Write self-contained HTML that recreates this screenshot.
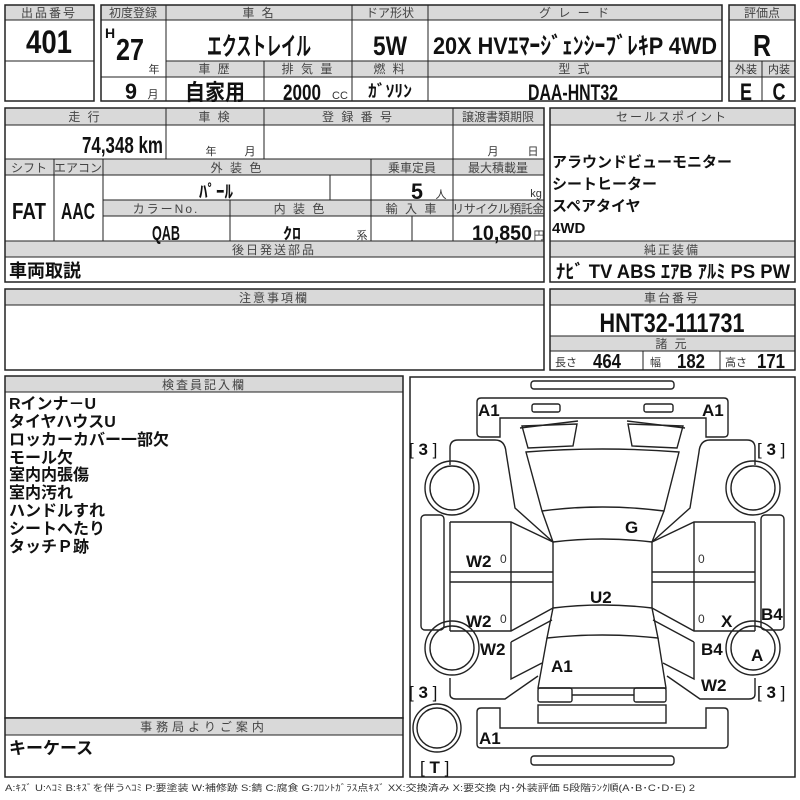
<!DOCTYPE html>
<html><head><meta charset="utf-8"><style>
html,body{margin:0;padding:0;background:#fff}
svg{display:block}
.h{font-size:12px;fill:#444;text-anchor:middle;letter-spacing:2px}
.b{font-family:"Liberation Sans Narrow","Liberation Sans","Noto Sans CJK JP",sans-serif;font-weight:bold;fill:#111}
.c{text-anchor:middle}
.s{font-size:11px;fill:#333}
.hf{fill:#d9d9d9}
.ln{stroke:#222;stroke-width:1;fill:none}
.bx{stroke:#222;stroke-width:1.5;fill:none}
.car{stroke:#222;stroke-width:1.4;fill:none}
.lb{font-family:"Liberation Sans","Noto Sans CJK JP",sans-serif;font-weight:bold;font-size:17px;fill:#111}
</style></head><body>
<svg width="800" height="800" viewBox="0 0 800 800" font-family="'Liberation Sans','Noto Sans CJK JP',sans-serif">
<!-- Box1 -->
<rect class="hf" x="5" y="5" width="89" height="15"/>
<rect class="bx" x="5" y="5" width="89" height="96"/>
<path class="ln" d="M5 20H94M5 61H94"/>
<text class="h" x="49" y="17">出品番号</text>
<text class="b c" x="49" y="53" font-size="32" textLength="46" lengthAdjust="spacingAndGlyphs">401</text>
<!-- Box2 -->
<rect class="hf" x="101" y="5" width="621" height="15"/>
<rect class="hf" x="166" y="61" width="556" height="16"/>
<rect class="bx" x="101" y="5" width="621" height="96"/>
<path class="ln" d="M166 5V101M352 5V101M428 5V101M264 61V101M101 20H722M166 61H722M101 77H722"/>
<text class="h" x="133" y="17" style="letter-spacing:0">初度登録</text>
<text class="h" x="259" y="17">車 名</text>
<text class="h" x="390" y="17" style="letter-spacing:0">ドア形状</text>
<text class="h" x="575" y="17">グ レ ー ド</text>
<text class="b" x="105" y="38" font-size="14">H</text>
<text class="b c" x="130" y="60" font-size="31" textLength="28" lengthAdjust="spacingAndGlyphs">27</text>
<text class="s c" x="154" y="73">年</text>
<text class="b c" x="131" y="99" font-size="22" textLength="12" lengthAdjust="spacingAndGlyphs">9</text>
<text class="s c" x="153" y="98">月</text>
<text class="b c" x="259" y="55" font-size="25" textLength="104" lengthAdjust="spacingAndGlyphs">エクストレイル</text>
<text class="b c" x="390" y="55" font-size="27" textLength="34" lengthAdjust="spacingAndGlyphs">5W</text>
<text class="b c" x="575" y="54" font-size="24" textLength="284" lengthAdjust="spacingAndGlyphs">20X  HVｴﾏｰｼﾞｪﾝｼｰﾌﾞﾚｷP  4WD</text>
<text class="h" x="215" y="73">車 歴</text>
<text class="h" x="308" y="73">排 気 量</text>
<text class="h" x="390" y="73">燃 料</text>
<text class="h" x="575" y="73">型 式</text>
<text class="b c" x="215" y="100" font-size="22" textLength="60" lengthAdjust="spacingAndGlyphs">自家用</text>
<text class="b c" x="302" y="100" font-size="22" textLength="38" lengthAdjust="spacingAndGlyphs">2000</text>
<text class="s" x="332" y="99" font-size="10">CC</text>
<text class="b c" x="390" y="97" font-size="17" textLength="44" lengthAdjust="spacingAndGlyphs">ｶﾞｿﾘﾝ</text>
<text class="b c" x="573" y="100" font-size="22" textLength="90" lengthAdjust="spacingAndGlyphs">DAA-HNT32</text>
<!-- Box3 -->
<rect class="hf" x="729" y="5" width="66" height="15"/>
<rect class="hf" x="729" y="61" width="66" height="16"/>
<rect class="bx" x="729" y="5" width="66" height="96"/>
<path class="ln" d="M729 20H795M729 61H795M729 77H795M762 61V101"/>
<text class="h" x="762" y="17" style="letter-spacing:0">評価点</text>
<text class="b c" x="762" y="56" font-size="31" textLength="18" lengthAdjust="spacingAndGlyphs">R</text>
<text class="s c" x="746" y="73">外装</text>
<text class="s c" x="779" y="73">内装</text>
<text class="b c" x="746" y="100" font-size="24" textLength="12" lengthAdjust="spacingAndGlyphs">E</text>
<text class="b c" x="779" y="100" font-size="24" textLength="13" lengthAdjust="spacingAndGlyphs">C</text>
<!-- Section 2 left -->
<rect class="hf" x="5" y="108" width="539" height="17"/>
<rect class="hf" x="5" y="159" width="539" height="16"/>
<rect class="hf" x="103" y="200" width="441" height="16"/>
<rect class="hf" x="5" y="241" width="539" height="16"/>
<rect class="bx" x="5" y="108" width="539" height="174"/>
<path class="ln" d="M5 125H544M5 159H544M5 175H544M103 200H544M103 216H544M5 241H544M5 257H544
M166 108V159M264 108V159M453 108V241M54 159V241M103 159V241M371 159V241M330 175V200M230 200V241M412 216V241"/>
<text class="h" x="85" y="121">走 行</text>
<text class="h" x="215" y="121">車 検</text>
<text class="h" x="358" y="121">登 録 番 号</text>
<text class="h" x="498" y="121" style="letter-spacing:0">譲渡書類期限</text>
<text class="b" x="82" y="153" font-size="23" textLength="81" lengthAdjust="spacingAndGlyphs">74,348 km</text>
<text class="s c" x="211" y="155">年</text><text class="s c" x="250" y="155">月</text>
<text class="s c" x="493" y="155">月</text><text class="s c" x="533" y="155">日</text>
<text class="h" x="29" y="172" style="letter-spacing:0">シフト</text>
<text class="h" x="78" y="172" style="letter-spacing:0">エアコン</text>
<text class="h" x="237" y="172">外 装 色</text>
<text class="h" x="412" y="172" style="letter-spacing:0">乗車定員</text>
<text class="h" x="498" y="172" style="letter-spacing:0">最大積載量</text>
<text class="b c" x="216" y="198" font-size="18" textLength="34" lengthAdjust="spacingAndGlyphs">ﾊﾟｰﾙ</text>
<text class="b c" x="417" y="199" font-size="22" textLength="12" lengthAdjust="spacingAndGlyphs">5</text>
<text class="s c" x="441" y="198">人</text>
<text class="s c" x="536" y="197">kg</text>
<text class="b c" x="29" y="219" font-size="23" textLength="34" lengthAdjust="spacingAndGlyphs">FAT</text>
<text class="b c" x="78" y="219" font-size="23" textLength="34" lengthAdjust="spacingAndGlyphs">AAC</text>
<text class="h" x="166" y="213">カラーNo.</text>
<text class="h" x="300" y="213">内 装 色</text>
<text class="h" x="412" y="213">輸 入 車</text>
<text class="h" x="498" y="213" style="letter-spacing:-0.5px">リサイクル預託金</text>
<text class="b c" x="166" y="240" font-size="20" textLength="28" lengthAdjust="spacingAndGlyphs">QAB</text>
<text class="b c" x="292" y="239" font-size="16" textLength="18" lengthAdjust="spacingAndGlyphs">ｸﾛ</text>
<text class="s c" x="362" y="239" font-size="10">系</text>
<text class="b" x="472" y="240" font-size="21" textLength="60" lengthAdjust="spacingAndGlyphs">10,850</text>
<text class="s c" x="539" y="239" font-size="10">円</text>
<text class="h" x="274" y="254">後日発送部品</text>
<text x="9" y="277" font-size="18" font-weight="bold" fill="#111">車両取説</text>
<!-- Section 2 right -->
<rect class="hf" x="550" y="108" width="245" height="17"/>
<rect class="hf" x="550" y="241" width="245" height="16"/>
<rect class="bx" x="550" y="108" width="245" height="174"/>
<path class="ln" d="M550 125H795M550 241H795M550 257H795"/>
<text class="h" x="672" y="121">セールスポイント</text>
<g font-size="15" font-weight="bold" fill="#111">
<text x="552" y="167">アラウンドビューモニター</text>
<text x="552" y="189">シートヒーター</text>
<text x="552" y="211">スペアタイヤ</text>
<text x="552" y="233">4WD</text>
</g>
<text class="h" x="672" y="254">純正装備</text>
<text class="b c" x="673" y="278" font-size="19" textLength="234" lengthAdjust="spacingAndGlyphs">ﾅﾋﾞ  TV  ABS  ｴｱB  ｱﾙﾐ  PS  PW</text>
<!-- Section 3 -->
<rect class="hf" x="5" y="289" width="539" height="16"/>
<rect class="bx" x="5" y="289" width="539" height="81"/>
<path class="ln" d="M5 305H544"/>
<text class="h" x="274" y="302">注意事項欄</text>
<rect class="hf" x="550" y="289" width="245" height="16"/>
<rect class="hf" x="550" y="336" width="245" height="15"/>
<rect class="bx" x="550" y="289" width="245" height="81"/>
<path class="ln" d="M550 305H795M550 336H795M550 351H795M643 351V370M720 351V370"/>
<text class="h" x="672" y="302">車台番号</text>
<text class="b c" x="672" y="332" font-size="27" textLength="145" lengthAdjust="spacingAndGlyphs">HNT32-111731</text>
<text class="h" x="672" y="348">諸 元</text>
<text class="s" x="555" y="366" font-size="10">長さ</text><text class="b" x="593" y="368" font-size="20" textLength="28" lengthAdjust="spacingAndGlyphs">464</text>
<text class="s" x="650" y="366" font-size="10">幅</text><text class="b" x="677" y="368" font-size="20" textLength="28" lengthAdjust="spacingAndGlyphs">182</text>
<text class="s" x="725" y="366" font-size="10">高さ</text><text class="b" x="757" y="368" font-size="20" textLength="28" lengthAdjust="spacingAndGlyphs">171</text>
<!-- Section 4 left -->
<rect class="hf" x="5" y="376" width="398" height="16"/>
<rect class="bx" x="5" y="376" width="398" height="342"/>
<path class="ln" d="M5 392H403"/>
<text class="h" x="204" y="389">検査員記入欄</text>
<g font-size="16" font-weight="bold" fill="#111">
<text x="9" y="409">Rインナ－U</text>
<text x="9" y="427">タイヤハウスU</text>
<text x="9" y="445">ロッカーカバー一部欠</text>
<text x="9" y="463">モール欠</text>
<text x="9" y="480">室内内張傷</text>
<text x="9" y="498">室内汚れ</text>
<text x="9" y="516">ハンドルすれ</text>
<text x="9" y="534">シートへたり</text>
<text x="9" y="552">タッチＰ跡</text>
</g>
<rect class="hf" x="5" y="718" width="398" height="17"/>
<rect class="bx" x="5" y="718" width="398" height="59"/>
<path class="ln" d="M5 735H403"/>
<text class="h" x="204" y="731" style="letter-spacing:4px">事務局よりご案内</text>
<text x="9" y="754" font-size="17" font-weight="bold" fill="#111">キーケース</text>
<!-- Car diagram -->
<rect class="bx" x="410" y="377" width="385" height="400"/>
<g class="car">
<rect x="531" y="381" width="143" height="8" rx="3"/>
<rect x="531" y="756" width="143" height="9" rx="3"/>
<path d="M481 398H724Q728 398 728 402V433Q728 437 724 437H706V418H500V437H481Q477 437 477 433V402Q477 398 481 398Z"/>
<path d="M481 708H500V728H706V708H724Q728 708 728 712V744Q728 748 724 748H481Q477 748 477 744V712Q477 708 481 708Z"/>
<rect x="532" y="404" width="28" height="8" rx="2"/>
<rect x="644" y="404" width="29" height="8" rx="2"/>
<path d="M526 452Q602 446 679 452L664 511Q602 503 542 511Z"/>
<path d="M542 511L553 542Q602 536 652 542L664 511"/>
<path d="M553 542V608M652 542V608"/>
<path d="M553 608Q602 602 652 608L658 638Q602 632 547 638Z"/>
<path d="M547 638L538 688H666L658 638"/>
<rect x="538" y="688" width="34" height="14" rx="2"/>
<rect x="634" y="688" width="32" height="14" rx="2"/>
<path d="M572 695H634"/>
<rect x="538" y="705" width="128" height="18"/>
<g id="side">
<path d="M522 426L577 424L573 446L528 448Z"/>
<path d="M520 428L578 421"/>
<rect x="421" y="515" width="23" height="115" rx="4"/>
<path d="M450 465V448Q450 440 458 440H495Q505 440 506 452L515 508L553 542"/>
<path d="M450 522H511L553 542M450 631H511L553 608M450 522V631M511 522V631M450 572H553M450 582H553"/>
<path d="M511 642L552 620M511 642V679L542 663"/>
<path d="M450 678V694Q450 699 456 699H505L538 676"/>
<circle cx="452" cy="488" r="27"/><circle cx="452" cy="488" r="22"/>
<circle cx="452" cy="648" r="27"/><circle cx="452" cy="648" r="22"/>
</g>
<use href="#side" transform="translate(1205,0) scale(-1,1)"/>
<circle cx="437" cy="728" r="24"/><circle cx="437" cy="728" r="20"/>
</g>
<g class="lb">
<text x="478" y="416">A1</text>
<text x="702" y="416">A1</text>
<text x="409" y="455" font-weight="normal">[ <tspan font-weight="bold">3</tspan> ]</text>
<text x="757" y="455" font-weight="normal">[ <tspan font-weight="bold">3</tspan> ]</text>
<text x="625" y="533">G</text>
<text x="466" y="567">W2</text>
<text x="466" y="627">W2</text>
<text x="480" y="655">W2</text>
<text x="551" y="672">A1</text>
<text x="590" y="603">U2</text>
<text x="721" y="627">X</text>
<text x="761" y="620">B4</text>
<text x="701" y="655">B4</text>
<text x="751" y="661">A</text>
<text x="701" y="691">W2</text>
<text x="409" y="698" font-weight="normal">[ <tspan font-weight="bold">3</tspan> ]</text>
<text x="757" y="698" font-weight="normal">[ <tspan font-weight="bold">3</tspan> ]</text>
<text x="479" y="744">A1</text>
<text x="420" y="773" font-weight="normal">[ <tspan font-weight="bold">T</tspan> ]</text>
</g>
<g font-size="12" fill="#333">
<text x="500" y="563">0</text><text x="500" y="623">0</text>
<text x="698" y="563">0</text><text x="698" y="623">0</text>
</g>
<text x="5" y="791" font-size="9" fill="#333" textLength="690" lengthAdjust="spacingAndGlyphs">A:ｷｽﾞ  U:ﾍｺﾐ  B:ｷｽﾞを伴うﾍｺﾐ  P:要塗装  W:補修跡  S:錆  C:腐食  G:ﾌﾛﾝﾄｶﾞﾗｽ点ｷｽﾞ  XX:交換済み  X:要交換   内･外装評価   5段階ﾗﾝｸ順(A･B･C･D･E) 2</text>
</svg>
</body></html>
